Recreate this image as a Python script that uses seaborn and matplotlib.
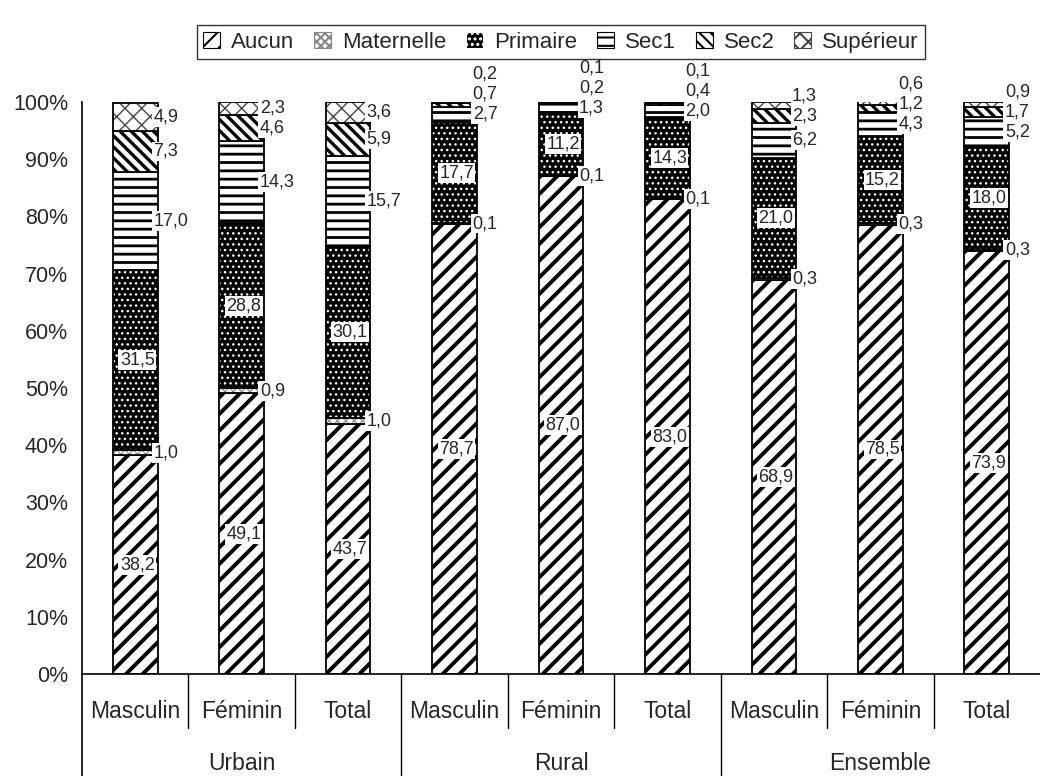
import matplotlib
matplotlib.use("Agg")
import matplotlib.pyplot as plt
import matplotlib.patches as mpatches
import seaborn as sns
import numpy as np

groupes = ["Urbain", "Rural", "Ensemble"]
sexes = ["Masculin", "Féminin", "Total"]
niveaux = ["Aucun", "Maternelle", "Primaire", "Sec1", "Sec2", "Supérieur"]

aucun = [38.2, 49.1, 43.7, 78.7, 87.0, 83.0, 68.9, 78.5, 73.9]
maternelle = [1.0, 0.9, 1.0, 0.1, 0.1, 0.1, 0.3, 0.3, 0.3]
primaire = [31.5, 28.8, 30.1, 17.7, 11.2, 14.3, 21.0, 15.2, 18.0]
sec1 = [17.0, 14.3, 15.7, 2.7, 1.3, 2.0, 6.2, 4.3, 5.2]
sec2 = [7.3, 4.6, 5.9, 0.7, 0.2, 0.4, 2.3, 1.2, 1.7]
superieur = [4.9, 2.3, 3.6, 0.2, 0.1, 0.1, 1.3, 0.6, 0.9]

series = [aucun, maternelle, primaire, sec1, sec2, superieur]

# style par niveau : fond, hachure, couleur hachure, epaisseur, position etiquette
styles = {
    "Aucun": ("white", "//", "black", 2.8, "centre"),
    "Maternelle": ("white", "xxxx", "#888888", 0.8, "droite"),
    "Primaire": ("black", "...", "white", 1.0, "centre"),
    "Sec1": ("white", "--", "black", 2.0, "droite"),
    "Sec2": ("white", "\\\\\\", "black", 2.4, "droite"),
    "Supérieur": ("white", "xx", "#444444", 1.0, "droite"),
}

cles = [f"{g}-{s}" for g in groupes for s in sexes]
n = len(cles)

sns.set_style("white")
plt.rcParams["font.family"] = ["Liberation Sans", "DejaVu Sans"]
plt.rcParams["hatch.linewidth"] = 1.5

fig = plt.figure(figsize=(10.4, 7.76), dpi=100)
ax = fig.add_axes([82 / 1040, 1 - 674 / 776, 1 - 82 / 1040, 572 / 776])

largeur = 0.42
bas = np.zeros(n)
for niv, vals in zip(niveaux, series):
    fond, hach, hcol, hlw, _ = styles[niv]
    avant = len(ax.patches)
    sns.barplot(x=cles, y=vals, bottom=bas, color=fond, saturation=1,
                hatch=hach, edgecolor=hcol, linewidth=0, width=largeur,
                errorbar=None, ax=ax)
    for p in ax.patches[avant:]:
        if hasattr(p, "set_hatch_linewidth"):
            p.set_hatch_linewidth(hlw)
    sns.barplot(x=cles, y=vals, bottom=bas, color="black", fill=False,
                linewidth=1.3, width=largeur, errorbar=None, ax=ax)
    bas = bas + np.array(vals)


def fmt(v):
    return f"{v:.1f}".replace(".", ",")


boite = dict(boxstyle="square,pad=0.08", fc="white", ec="none")
for i in range(n):
    cumul = 0.0
    a_droite = []
    for niv, vals in zip(niveaux, series):
        v = vals[i]
        c = cumul + v / 2
        if styles[niv][4] == "centre":
            ax.text(i + 0.02, c, fmt(v), ha="center", va="center",
                    fontsize=13, bbox=boite, zorder=5)
        else:
            a_droite.append((c, v))
        cumul += v
    dernier = -100
    for c, v in a_droite:
        y = max(c, dernier + 3.5)
        ax.text(i + largeur / 2 - 0.04, y, fmt(v), ha="left", va="center",
                fontsize=13, bbox=boite, zorder=5)
        dernier = y

ax.set_xlim(-0.5, n - 0.5)
ax.set_ylim(0, 100)
ax.set_yticks(range(0, 101, 10))
ax.set_yticklabels([f"{t}%" for t in range(0, 101, 10)], fontsize=15.5)
ax.set_xticks([])
ax.set_xlabel("")
ax.set_ylabel("")
ax.tick_params(axis="y", direction="out", length=6, width=1, color="black", pad=4)
for cote in ["top", "right"]:
    ax.spines[cote].set_visible(False)
for cote in ["left", "bottom"]:
    ax.spines[cote].set_color("black")
    ax.spines[cote].set_linewidth(1.2)

# axe des categories a deux niveaux
trans = ax.get_xaxis_transform()
h_ax = 572
court = -(728 - 674) / h_ax
long_ = -(776 - 674) / h_ax
for k in range(1, n):
    y_fin = long_ if k % 3 == 0 else court
    ax.plot([k - 0.5, k - 0.5], [0, y_fin], color="black", lw=1,
            transform=trans, clip_on=False)
ax.plot([-0.5, -0.5], [0, long_], color="black", lw=1.2,
        transform=trans, clip_on=False)
for i, cle in enumerate(cles):
    ax.text(i, -(711 - 674) / h_ax, cle.split("-")[1], ha="center", va="center",
            fontsize=16.5, transform=trans)
for j, g in enumerate(groupes):
    ax.text(3 * j + 1, -(763 - 674) / h_ax, g, ha="center", va="center",
            fontsize=16.5, transform=trans)

poignees = []
for niv in niveaux:
    fond, hach, hcol, hlw, _ = styles[niv]
    poignees.append(mpatches.Patch(facecolor=fond, hatch=hach, edgecolor=hcol,
                                   linewidth=0.8, label=niv))
leg = fig.legend(handles=poignees, loc="upper center", ncol=6,
                 bbox_to_anchor=(561 / 1040, 1 - 14 / 776), fontsize=16,
                 frameon=True, fancybox=False, edgecolor="black",
                 handlelength=0.75, handleheight=0.75, handletextpad=0.5,
                 columnspacing=0.9, borderpad=0.3)
leg.get_frame().set_linewidth(1.0)

fig.savefig("out.png", dpi=100)
